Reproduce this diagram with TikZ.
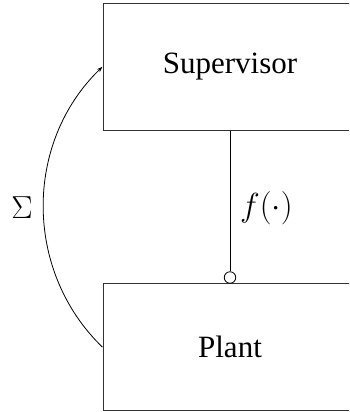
\documentclass[tikz,border=0pt]{standalone}
\usepackage{fontspec}
\setmainfont{Liberation Serif}
\usetikzlibrary{arrows.meta}
\tikzset{
  blockbox/.style={draw=black!80, line width=1pt, minimum width=254pt, minimum height=127pt, inner sep=0pt, font=\fontsize{31}{36}\selectfont},
  conn/.style={line width=0.8pt},
  lbl/.style={font=\fontsize{24.88}{30}\selectfont, inner sep=0pt}
}
\begin{document}
\begin{tikzpicture}[x=1pt,y=1pt]
\useasboundingbox (0,0) rectangle (349,412);
\clip (0,0) rectangle (349,412);
\node[blockbox] (sup) at (230,345.3) {Supervisor};
\node[blockbox] (plant) at (230,64.8) {Plant};
\node[draw, circle, line width=0.8pt, minimum size=11.5pt, inner sep=0pt, fill=white] (c) at (230,134.5) {};
\draw[conn] (sup.south) -- (c.north);
\draw[conn, -{Stealth[length=6pt,width=4pt]}] (plant.west) to[bend left=46] (sup.west);
\node[lbl] (f) at (266.5,203.5) {\scalebox{1.34}{$f(\cdot)$}};
\node[lbl] (s) at (22,204) {\scalebox{1.28}{$\Sigma$}};
\end{tikzpicture}
\end{document}
